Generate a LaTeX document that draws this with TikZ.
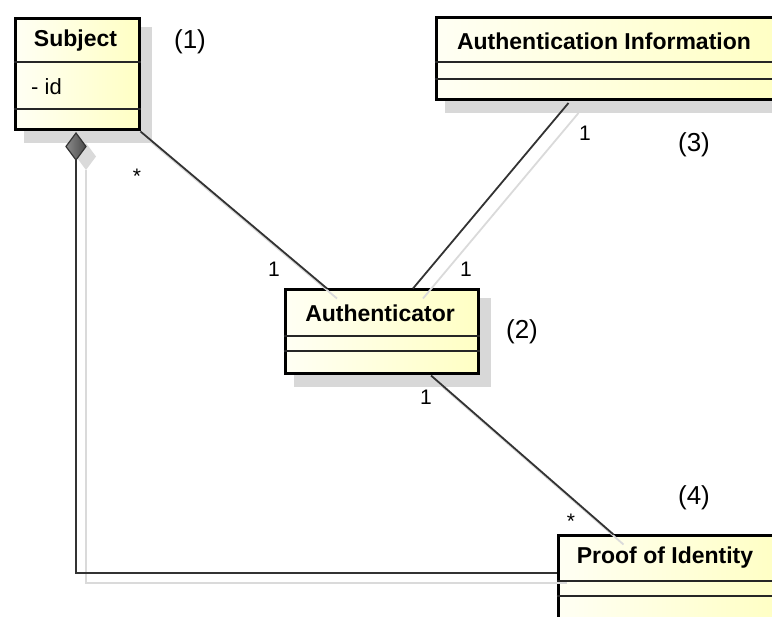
\documentclass[tikz,border=0pt]{standalone}
\usepackage{fontspec}
\setmainfont{Liberation Sans}
\usetikzlibrary{calc,backgrounds}

\definecolor{boxL}{HTML}{FFFFF4}
\definecolor{boxR}{HTML}{FFFFC4}
\definecolor{boxshade}{HTML}{D8D8D8}
\definecolor{lineshade}{HTML}{DADADA}
\definecolor{ink}{HTML}{333333}
\definecolor{diamL}{HTML}{8A8A8A}
\definecolor{diamR}{HTML}{4A4A4A}

\tikzset{
  classbox/.style={rectangle, draw=black, line width=3pt, left color=boxL,
    right color=boxR, inner sep=0pt, anchor=north west},
  divider/.style={draw=black!85, line width=1.6pt},
  classname/.style={font=\bfseries\fontsize{23}{23}\selectfont, inner sep=0pt},
  attr/.style={font=\fontsize{22}{22}\selectfont, inner sep=0pt, anchor=west},
  assoc/.style={draw=ink, line width=1.8pt},
  assocshade/.style={draw=lineshade, line width=1.8pt},
  mult/.style={font=\fontsize{21}{21}\selectfont, inner sep=0pt},
  tag/.style={font=\fontsize{26}{26}\selectfont, inner sep=0pt},
}

\begin{document}
\begin{tikzpicture}[x=1pt, y=-1pt]
\useasboundingbox (0,0) rectangle (772,617);
\clip (0,0) rectangle (772,617);

% class boxes
\node[classbox, minimum width=124pt, minimum height=111pt] (subj) at (13.5,17.5) {};
\node[classbox, minimum width=341pt, minimum height=82pt] (info) at (434.5,16.5) {};
\node[classbox, minimum width=193pt, minimum height=84pt] (auth) at (283.5,288.5) {};
\node[classbox, minimum width=220pt, minimum height=86pt] (proof) at (556.5,534.5) {};

% drop shadows behind the boxes
\begin{scope}[on background layer]
  \foreach \b in {subj,info,auth,proof}
    \fill[boxshade] ($(\b.north west)+(10,10)$) rectangle ($(\b.south east)+(11.5,11.5)$);
\end{scope}

% compartments
\draw[divider] (subj.west |- 0,62) -- (subj.east |- 0,62);
\draw[divider] (subj.west |- 0,109) -- (subj.east |- 0,109);
\draw[divider] (info.west |- 0,62) -- (info.east |- 0,62);
\draw[divider] (info.west |- 0,79) -- (info.east |- 0,79);
\draw[divider] (auth.west |- 0,336) -- (auth.east |- 0,336);
\draw[divider] (auth.west |- 0,351) -- (auth.east |- 0,351);
\draw[divider] (proof.west |- 0,581) -- (proof.east |- 0,581);
\draw[divider] (proof.west |- 0,596) -- (proof.east |- 0,596);

% names and attributes
\node[classname] (subjname) at (75.5,41) {Subject};
\node[attr] (subjid) at (31,87) {- id};
\node[classname] (infoname) at (604,41) {Authentication Information};
\node[classname] (authname) at (380,313) {Authenticator};
\node[classname] (proofname) at (665,558) {Proof of Identity};

% connector end points on the boxes
\coordinate (s1) at (subj.south east);
\coordinate (a1) at ($(auth.north west)+(43.5,0)$);
\coordinate (i1) at ($(info.south west)+(134,1.5)$);
\coordinate (a2) at ($(auth.north west)+(129.5,0)$);
\coordinate (a3) at ($(auth.south west)+(147.5,0)$);
\coordinate (p1) at ($(proof.north west)+(57,0)$);
\coordinate (dtop) at ($(subj.south west)+(62.5,1.5)$);
\coordinate (dbot) at ($(dtop)+(0,27)$);
\coordinate (dl) at ($(dtop)+(-10,13.5)$);
\coordinate (dr) at ($(dtop)+(10,13.5)$);
\coordinate (bend) at (dtop |- 0,573);
\coordinate (p2) at (proof.west |- 0,573);

% connector shadows
\draw[assocshade] ($(s1)+(10,10)$) -- ($(a1)+(10,10)$);
\draw[assocshade] ($(i1)+(10,10)$) -- ($(a2)+(10,10)$);
\draw[assocshade] ($(a3)+(10,10)$) -- ($(p1)+(10,10)$);
\draw[assocshade] ($(dbot)+(10,10)$) -- ($(bend)+(10,10)$) -- ($(p2)+(10,10)$);
\fill[lineshade] ($(dtop)+(10,10)$) -- ($(dr)+(10,10)$) -- ($(dbot)+(10,10)$) -- ($(dl)+(10,10)$) -- cycle;

% associations
\draw[assoc] (s1) -- (a1);
\draw[assoc] (i1) -- (a2);
\draw[assoc] (a3) -- (p1);
\draw[assoc] (dbot) -- (bend) -- (p2);
\shade[left color=diamL, right color=diamR, draw=ink, line width=1.2pt]
  (dtop) -- (dr) -- (dbot) -- (dl) -- cycle;

% multiplicities
\node[mult] (m1) at (137,176) {*};
\node[mult] (m2) at (274,269) {1};
\node[mult] (m3) at (585,133) {1};
\node[mult] (m4) at (466,269) {1};
\node[mult] (m5) at (426,397) {1};
\node[mult] (m6) at (571,521) {*};

% numbered tags
\node[tag] (t1) at (190,42) {(1)};
\node[tag] (t2) at (522,332) {(2)};
\node[tag] (t3) at (694,145) {(3)};
\node[tag] (t4) at (694,498) {(4)};
\end{tikzpicture}
\end{document}
